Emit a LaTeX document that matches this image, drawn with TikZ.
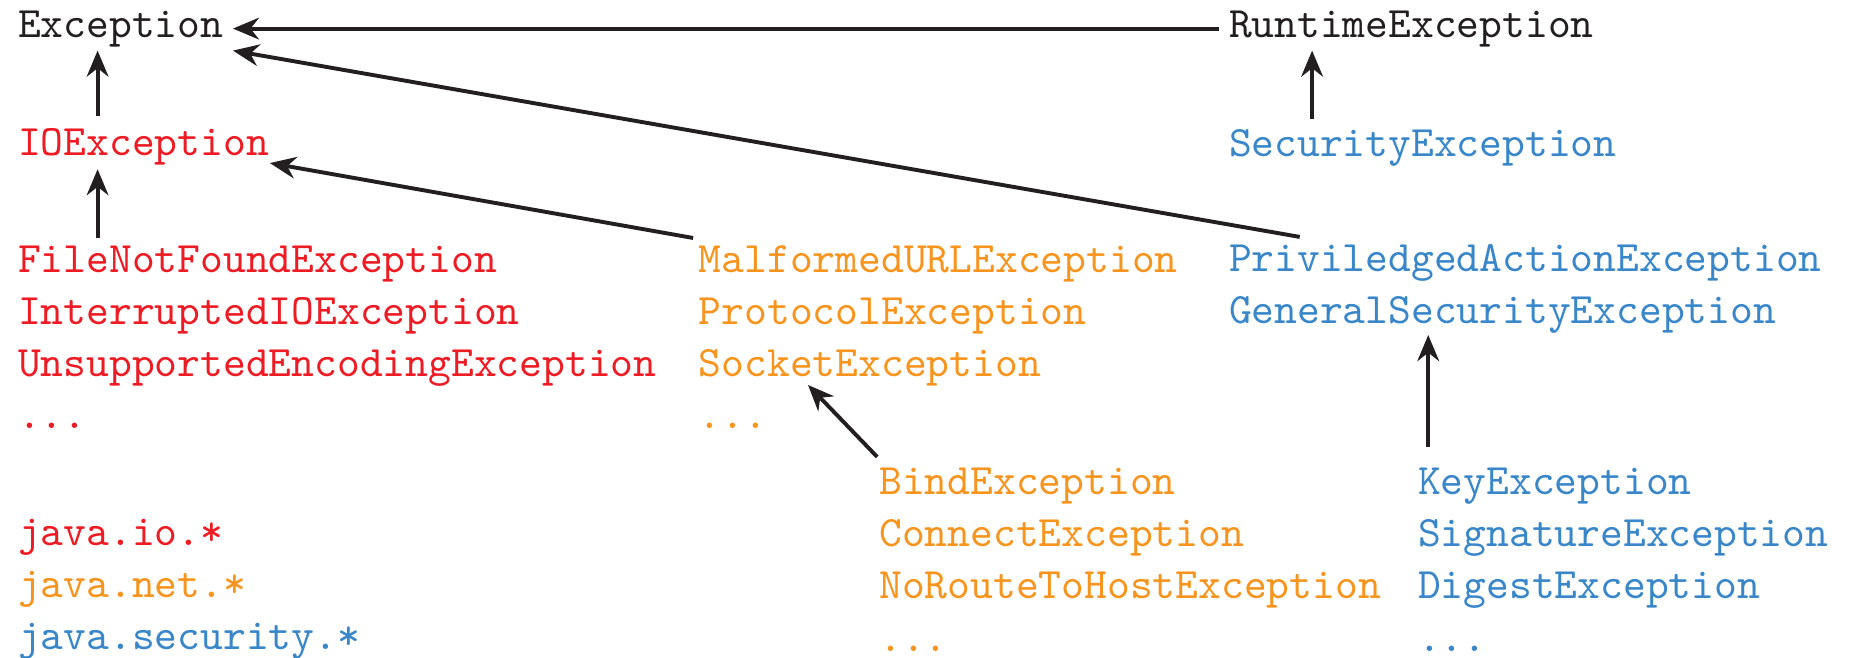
\documentclass[tikz,border=0pt]{standalone}
\usepackage{xcolor}
\definecolor{hitam}{RGB}{35,31,32}
\definecolor{merahIO}{RGB}{237,28,36}
\definecolor{oranyeNet}{RGB}{247,148,29}
\definecolor{biruSec}{RGB}{57,135,201}
\usetikzlibrary{calc,positioning,arrows.meta}
\tikzset{
	kelas/.style={font=\ttfamily, anchor=base west, align=left, inner xsep=2pt, inner ysep=0.7pt, text=hitam},
	turunan/.style={-{Stealth[length=6pt,width=5pt]}, line width=0.9pt, draw=hitam},
}

\begin{document}
\begin{tikzpicture}
\useasboundingbox (0,0) rectangle (14.99,-5.32);

% kelas-kelas induk
\node[kelas] (Exc) at (0.07,-0.30) {Exception};
\node[kelas] (RtExc) at (9.87,-0.30) {RuntimeException};
\node[kelas, text=merahIO] (IOExc) at (0.07,-1.26) {IOException};
\node[kelas, text=biruSec] (SecExc) at (9.87,-1.27) {SecurityException};

% daftar subkelas (base = baris terakhir)
\node[kelas, text=merahIO] (IOList) at (0.07,-3.47)
	{FileNotFoundException\\InterruptedIOException\\UnsupportedEncodingException\\...};
\node[kelas, text=oranyeNet] (NetList) at (5.58,-3.47)
	{MalformedURLException\\ProtocolException\\SocketException\\...};
\node[kelas, text=biruSec] (SecList) at (9.87,-2.62)
	{PriviledgedActionException\\GeneralSecurityException};
\node[kelas, text=oranyeNet] (SockList) at (7.04,-5.27)
	{BindException\\ConnectException\\NoRouteToHostException\\...};
\node[kelas, text=biruSec] (KeyList) at (11.40,-5.27)
	{KeyException\\SignatureException\\DigestException\\...};

% keterangan paket
\node[kelas] (Paket) at (0.07,-5.26)
	{\textcolor{merahIO}{java.io.*}\\\textcolor{oranyeNet}{java.net.*}\\\textcolor{biruSec}{java.security.*}};

% panah pewarisan
\draw[turunan] (RtExc.west) -- (Exc.east);
\draw[turunan, shorten <=2pt] ([xshift=0.72cm]IOExc.north west) -- ([xshift=0.72cm]Exc.south west);
\draw[turunan, shorten <=1.5pt] ([xshift=0.75cm]SecExc.north west) -- ([xshift=0.75cm]RtExc.south west);
\draw[turunan, shorten <=1pt] ([xshift=0.72cm]IOList.north west) -- ([xshift=0.72cm]IOExc.south west);
\draw[turunan] ($(NetList.north west)+(0.03,0.03)$) -- ($(IOExc.base east)+(-0.07,-0.06)$);
\draw[turunan] ($(SecList.north west)+(0.65,0.03)$) -- (Exc.south east);
\draw[turunan] ($(SockList.north west)+(0.06,0.06)$) -- ($(NetList.north west)+(0.96,-1.16)$);
\draw[turunan, shorten <=4pt] ([xshift=0.16cm]KeyList.north west) -- ($(KeyList.north west |- SecList.south)+(0.16,0.02)$);

\end{tikzpicture}
\end{document}
